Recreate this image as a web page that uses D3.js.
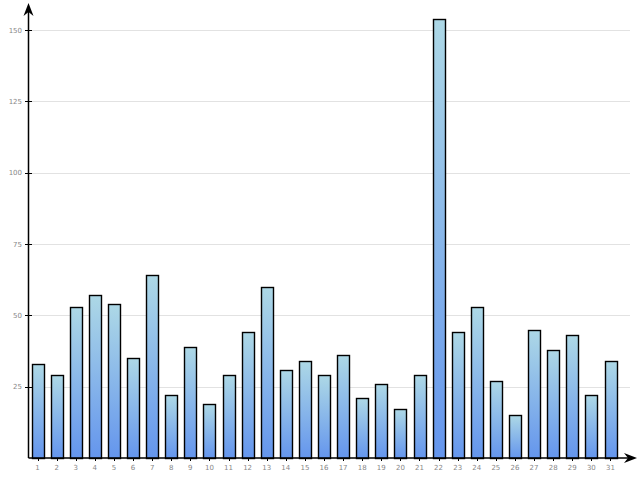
<!DOCTYPE html>
<html>
<head>
<meta charset="utf-8">
<script src="https://cdn.jsdelivr.net/npm/d3@7"></script>
<style>
  body { margin: 0; background: #fff; }
  svg text { font-family: "DejaVu Sans", sans-serif; }
</style>
</head>
<body>
<div id="chart"></div>
<script>
var days = d3.range(1, 32).map(String);
var counts = [33, 29, 53, 57, 54, 35, 64, 22, 39, 19, 29, 44, 60, 31, 34, 29, 36, 21, 26, 17, 29, 154, 44, 53, 27, 15, 45, 38, 43, 22, 34];
var yTicks = [25, 50, 75, 100, 125, 150];

var width = 640, height = 480;
var left = 28.5, bottom = 458;

var svg = d3.select("#chart").append("svg")
  .attr("width", width).attr("height", height);

var defs = svg.append("defs");
var grad = defs.append("linearGradient")
  .attr("id", "barGrad").attr("x1", 0).attr("y1", 0).attr("x2", 0).attr("y2", 1);
grad.append("stop").attr("offset", "0%").attr("stop-color", "#add8e6");
grad.append("stop").attr("offset", "100%").attr("stop-color", "#6495ed");

var x = d3.scaleBand().domain(days).range([28, 620]).paddingInner(0.38).paddingOuter(0.19);
var y = d3.scaleLinear().domain([0, 150]).range([bottom, 30]);

// grid
svg.append("g").selectAll("line").data(yTicks).join("line")
  .attr("x1", left).attr("x2", 630)
  .attr("y1", d => Math.round(y(d)) + 0.5).attr("y2", d => Math.round(y(d)) + 0.5)
  .attr("stroke", "#e2e2e2");

// bars
svg.append("g").selectAll("rect").data(counts).join("rect")
  .attr("x", (d, i) => Math.round(x(days[i])) + 0.5)
  .attr("y", d => Math.round(y(d)) + 0.5)
  .attr("width", Math.round(x.bandwidth()))
  .attr("height", d => bottom - Math.round(y(d)))
  .attr("fill", "url(#barGrad)")
  .attr("stroke", "#000")
  .attr("stroke-width", 1.4);

// y axis
var yAxis = svg.append("g");
yAxis.append("line").attr("x1", left).attr("x2", left).attr("y1", 8).attr("y2", bottom)
  .attr("stroke", "#000").attr("stroke-width", 1.5);
yAxis.selectAll(".tk").data(yTicks).join("line").attr("class", "tk")
  .attr("x1", 25).attr("x2", 32)
  .attr("y1", d => Math.round(y(d)) + 0.5).attr("y2", d => Math.round(y(d)) + 0.5)
  .attr("stroke", "#000");
yAxis.selectAll("text").data(yTicks).join("text")
  .attr("x", 22).attr("y", d => y(d) + 2.5)
  .attr("text-anchor", "end").attr("font-size", 7).attr("fill", "#888")
  .text(d => d);
yAxis.append("path").attr("d", "M28.5,3 L23.5,16 L28.5,12 L33.5,16 Z").attr("fill", "#000");

// x axis
var xAxis = svg.append("g");
xAxis.append("line").attr("x1", left).attr("x2", 634).attr("y1", bottom).attr("y2", bottom)
  .attr("stroke", "#000").attr("stroke-width", 1.5);
xAxis.selectAll(".tk").data(days).join("line").attr("class", "tk")
  .attr("x1", d => Math.round(x(d) + x.bandwidth() / 2) + 0.5)
  .attr("x2", d => Math.round(x(d) + x.bandwidth() / 2) + 0.5)
  .attr("y1", bottom).attr("y2", bottom + 3)
  .attr("stroke", "#000");
xAxis.selectAll("text").data(days).join("text")
  .attr("x", d => x(d) + x.bandwidth() / 2).attr("y", 470)
  .attr("text-anchor", "middle").attr("font-size", 7).attr("fill", "#888")
  .text(d => d);
xAxis.append("path").attr("d", "M637,458 L624,453 L628,458 L624,463 Z").attr("fill", "#000");
</script>
</body>
</html>
